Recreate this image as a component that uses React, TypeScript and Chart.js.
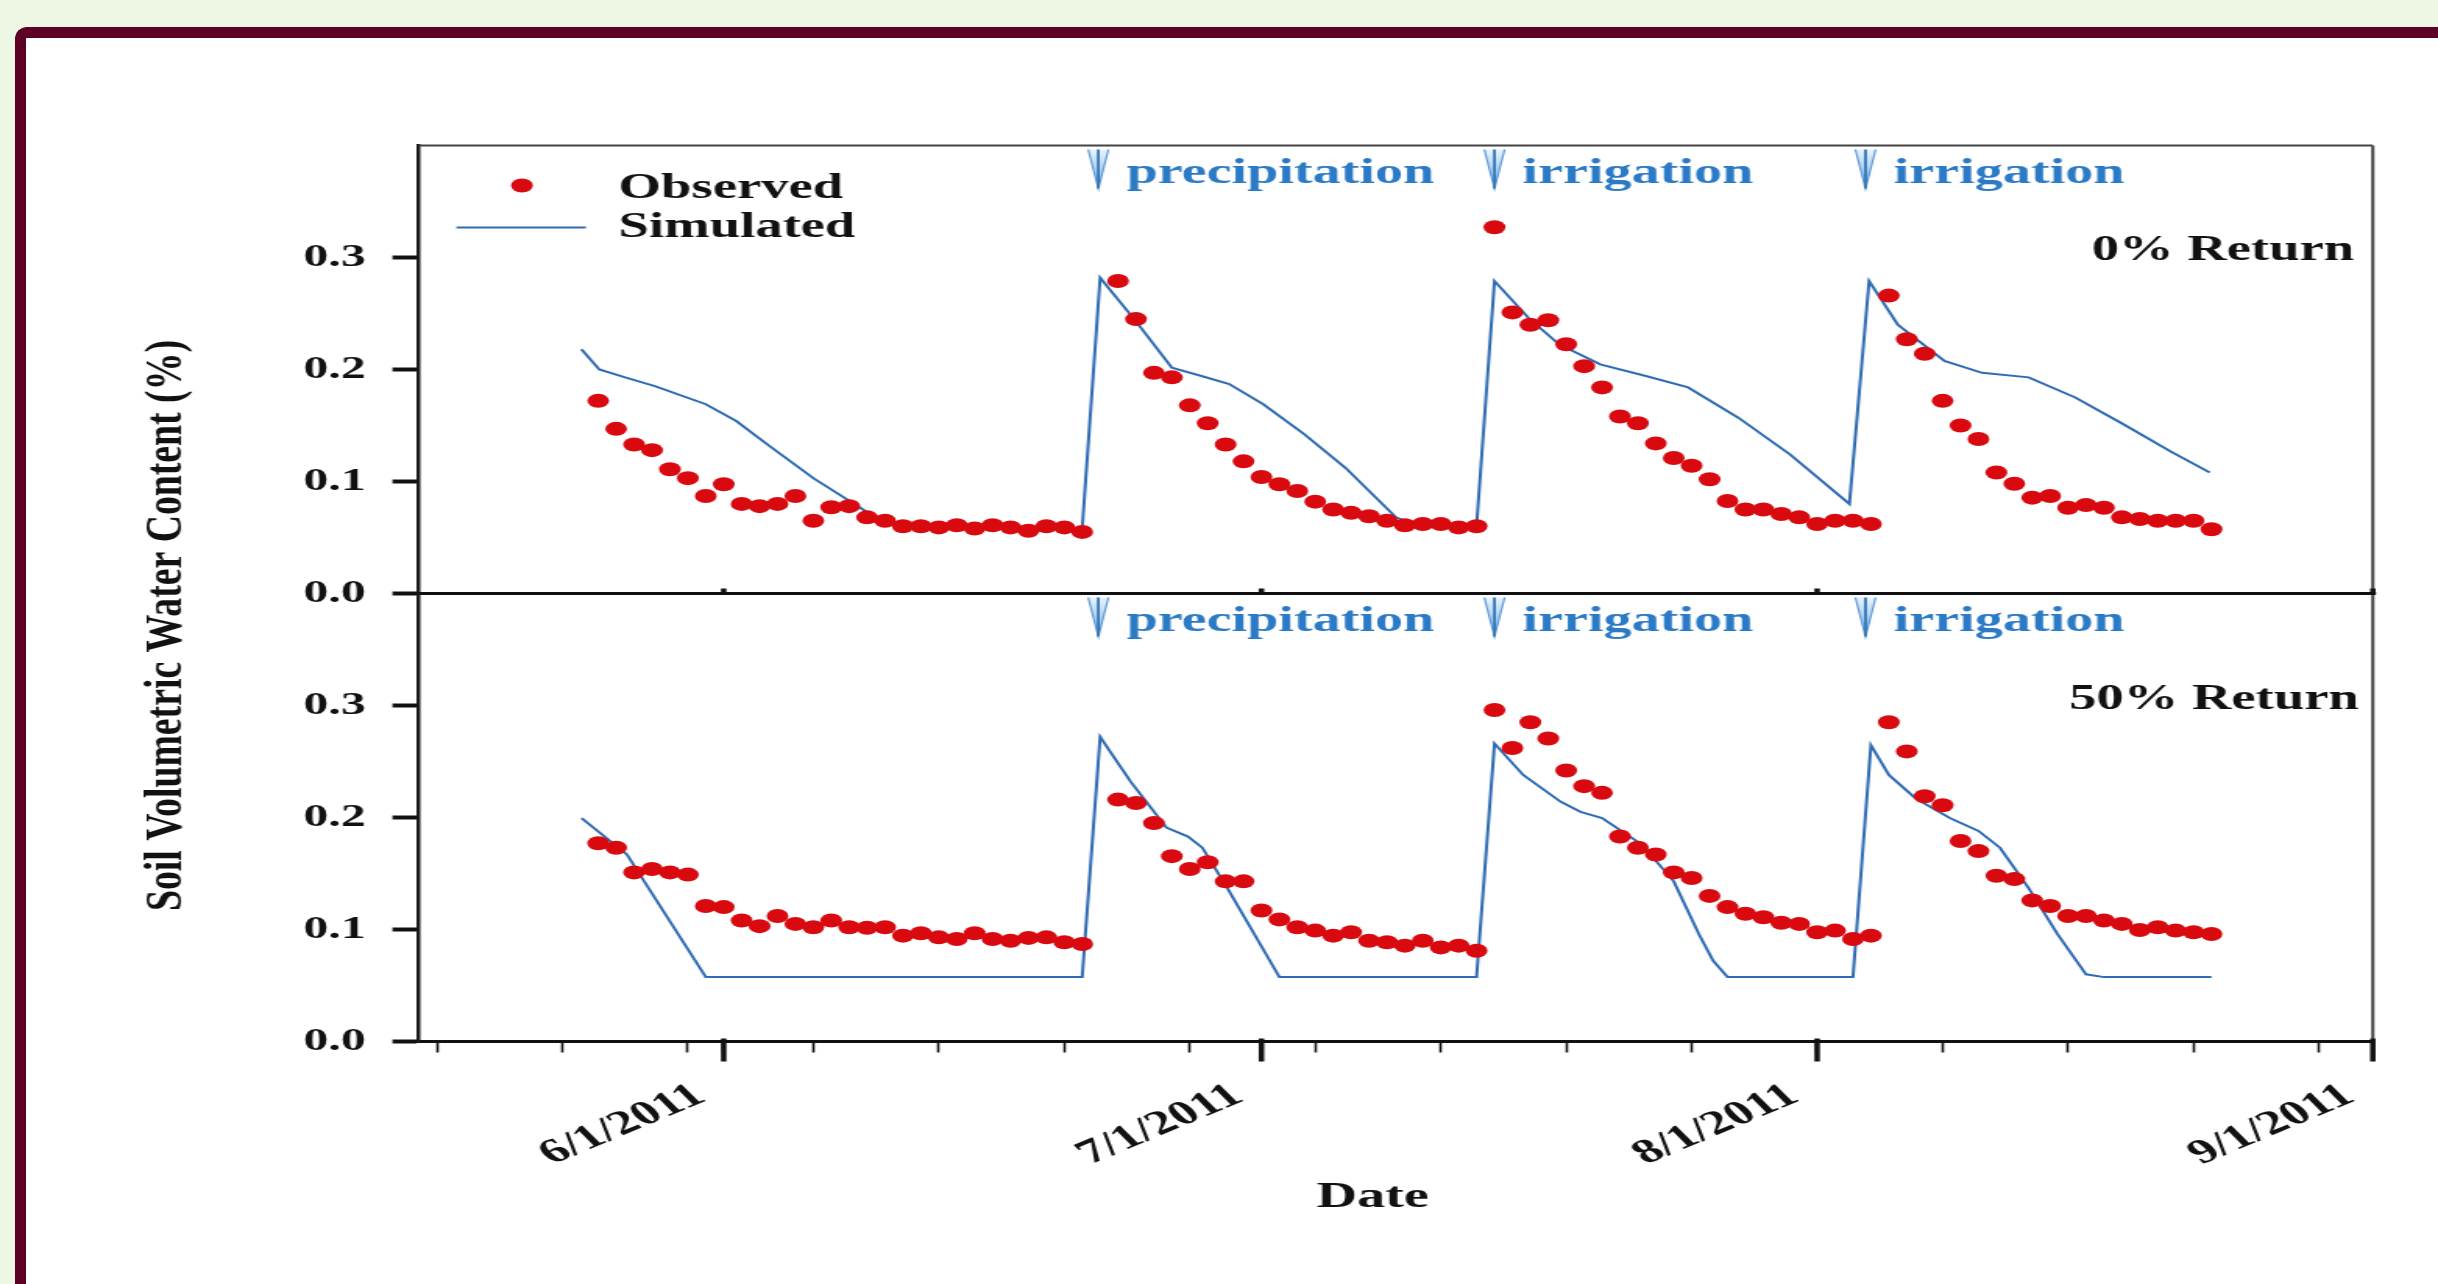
import React, { useEffect, useRef } from 'react';
import { Chart, registerables } from 'chart.js';

Chart.register(...registerables);

// x values are days counted from 5/15/2011
const obsDays = [
  10, 11, 12, 13, 14, 15, 16, 17, 18, 19, 20, 21, 22, 23, 24, 25, 26, 27, 28, 29, 30, 31, 32, 33, 34, 35, 36, 37,
  39, 40, 41, 42, 43, 44, 45, 46, 47, 48, 49, 50, 51, 52, 53, 54, 55, 56, 57, 58, 59, 60, 61, 62, 63, 64, 65, 66, 67, 68, 69,
  70, 71, 72, 73, 74, 75, 76, 77, 78, 79, 80, 81, 82, 83, 84, 85, 86, 87, 88, 89, 90, 91, 92, 93, 94, 95, 96, 97, 98, 99, 100,
];
const obsTop = [
  0.172, 0.147, 0.133, 0.128, 0.111, 0.103, 0.087, 0.0975, 0.08, 0.078, 0.08, 0.087, 0.065, 0.077, 0.078, 0.068, 0.065, 0.06,
  0.06, 0.059, 0.061, 0.058, 0.061, 0.059, 0.056, 0.06, 0.059, 0.055,
  0.279, 0.245, 0.197, 0.193, 0.168, 0.152, 0.133, 0.118, 0.104, 0.0975, 0.0915, 0.082, 0.075, 0.072, 0.069, 0.065, 0.061,
  0.062, 0.062, 0.059, 0.06, 0.327, 0.251, 0.24, 0.244, 0.2225, 0.203, 0.184, 0.158, 0.152, 0.134, 0.121, 0.114, 0.102,
  0.0826, 0.075, 0.075, 0.071, 0.068, 0.062, 0.065, 0.065, 0.062, 0.266, 0.227, 0.214, 0.172, 0.15, 0.138, 0.108, 0.098,
  0.0856, 0.087, 0.0766, 0.079, 0.0766, 0.068, 0.0665, 0.065, 0.065, 0.065, 0.0573,
];
const obsBottom = [
  0.177, 0.173, 0.151, 0.154, 0.151, 0.149, 0.121, 0.12, 0.108, 0.103, 0.112, 0.105, 0.102, 0.108, 0.102, 0.1015, 0.102,
  0.0945, 0.0966, 0.093, 0.0915, 0.0966, 0.0915, 0.09, 0.0925, 0.093, 0.0886, 0.0871,
  0.216, 0.213, 0.195, 0.1655, 0.154, 0.16, 0.143, 0.143, 0.117, 0.109, 0.102, 0.099, 0.0945, 0.0975, 0.09, 0.0886, 0.0856,
  0.09, 0.084, 0.0856, 0.081, 0.296, 0.262, 0.285, 0.2705, 0.242, 0.228, 0.222, 0.183, 0.173, 0.167, 0.151, 0.146, 0.13,
  0.12, 0.114, 0.111, 0.106, 0.105, 0.0975, 0.099, 0.0915, 0.0945, 0.285, 0.259, 0.219, 0.211, 0.179, 0.17, 0.148, 0.145,
  0.126, 0.121, 0.112, 0.112, 0.108, 0.105, 0.0995, 0.102, 0.099, 0.0975, 0.096,
];

const simTopDays = [
  9.06, 10.06, 11.5, 13.2, 16, 17.7, 19.45, 22, 24.9, 26, 37, 38, 40, 42, 43.7, 45.2, 47.1, 49.4, 51.7, 54.5, 55.5, 59, 60,
  61.9, 63.6, 65.9, 68.5, 70.8, 73.6, 76.5, 79.8, 80.9, 82.5, 85.1, 87.2, 89.8, 92.4, 95.1, 97.7, 99.9,
];
const simTopValues = [
  0.218, 0.2, 0.193, 0.185, 0.169, 0.154, 0.133, 0.103, 0.0737, 0.062, 0.058, 0.282, 0.243, 0.2016, 0.194, 0.187, 0.169,
  0.142, 0.112, 0.068, 0.062, 0.06, 0.279, 0.246, 0.2225, 0.2046, 0.194, 0.184, 0.157, 0.124, 0.08, 0.279, 0.24, 0.2076,
  0.197, 0.193, 0.175, 0.151, 0.127, 0.108,
];
const simBottomDays = [
  9.07, 11.6, 16, 37, 38, 39.7, 41.7, 42.9, 43.7, 45.1, 48, 59, 60, 61.6, 63.7, 64.8, 66, 68.2, 70, 71.4, 72.2, 73, 80, 81,
  82, 83.5, 85.4, 87, 88.2, 89.8, 91.4, 93, 94, 100,
];
const simBottomValues = [
  0.1995, 0.167, 0.0575, 0.0575, 0.272, 0.232, 0.191, 0.183, 0.173, 0.137, 0.0575, 0.0575, 0.266, 0.238, 0.214, 0.205,
  0.1995, 0.176, 0.143, 0.096, 0.072, 0.0575, 0.0575, 0.2646, 0.238, 0.217, 0.1995, 0.188, 0.173, 0.137, 0.096, 0.06, 0.0575,
  0.0575,
];

const monthTickDays = [17, 47, 78, 109];
const monthTickLabels = ['6/1/2011', '7/1/2011', '8/1/2011', '9/1/2011'];
const weekTickDays = [1, 8, 15, 22, 29, 36, 43, 50, 57, 64, 71, 85, 92, 99, 106];
const yTickValues = [0, 0.1, 0.2, 0.3];

const eventDays = [37.9, 60, 80.7];
const eventLabels = ['precipitation', 'irrigation', 'irrigation'];
const panelLabels = ['0% Return', '50% Return'];
const seriesLabels = ['Observed', 'Simulated'];
const yTitle = 'Soil Volumetric Water Content (%)';
const xTitle = 'Date';

const CANVAS_W = 1563;
const CANVAS_H = 1284;
const SHOWN_W = 2438;
const FONT = '"Liberation Serif", "Times New Roman", serif';
const RED = '#d90a0f';
const BLUE = '#2e6bb3';
const TEXT_BLUE = '#2b7ac6';
const INK = '#111111';

function drawArrow(ctx: CanvasRenderingContext2D, x: number, top: number, bottom: number) {
  const hw = 6.5;
  const g = ctx.createLinearGradient(0, top, 0, bottom);
  g.addColorStop(0, '#eaf3fc');
  g.addColorStop(1, '#7fb2e4');
  ctx.beginPath();
  ctx.moveTo(x - hw, top);
  ctx.lineTo(x + hw, top);
  ctx.lineTo(x, bottom);
  ctx.closePath();
  ctx.fillStyle = g;
  ctx.fill();
  ctx.lineWidth = 1.2;
  ctx.strokeStyle = '#5b98d6';
  ctx.beginPath();
  ctx.moveTo(x - hw, top);
  ctx.lineTo(x, bottom);
  ctx.lineTo(x + hw, top);
  ctx.stroke();
  ctx.beginPath();
  ctx.moveTo(x, top);
  ctx.lineTo(x, bottom);
  ctx.lineWidth = 1.8;
  ctx.strokeStyle = '#2e75b6';
  ctx.stroke();
}

const decorPlugin = {
  id: 'decor',
  afterDraw(chart: any) {
    const ctx: CanvasRenderingContext2D = chart.ctx;
    const ca = chart.chartArea;
    const xs = chart.scales.x;
    const yT = chart.scales.yT;
    const yB = chart.scales.yB;
    ctx.save();

    // frame: top, right, separator
    ctx.strokeStyle = '#444';
    ctx.lineWidth = 2;
    ctx.beginPath();
    ctx.moveTo(ca.left, yT.top);
    ctx.lineTo(ca.right, yT.top);
    ctx.moveTo(ca.right, yT.top);
    ctx.lineTo(ca.right, ca.bottom);
    ctx.stroke();
    ctx.strokeStyle = INK;
    ctx.lineWidth = 3;
    ctx.beginPath();
    ctx.moveTo(ca.left, yT.bottom);
    ctx.lineTo(ca.right + 2, yT.bottom);
    ctx.stroke();

    // major ticks (longer, thicker) and small marks on separator
    ctx.lineWidth = 3.5;
    for (const d of monthTickDays) {
      const px = xs.getPixelForValue(d);
      ctx.beginPath();
      ctx.moveTo(px, ca.bottom - 3);
      ctx.lineTo(px, ca.bottom + 20);
      ctx.moveTo(px, yT.bottom);
      ctx.lineTo(px, yT.bottom - 5);
      ctx.stroke();
    }

    // legend
    const lx = ca.left;
    const ly = ca.top;
    ctx.fillStyle = RED;
    ctx.beginPath();
    ctx.arc(lx + 66, ly + 40, 7, 0, Math.PI * 2);
    ctx.fill();
    ctx.strokeStyle = BLUE;
    ctx.lineWidth = 2;
    ctx.beginPath();
    ctx.moveTo(lx + 24, ly + 82);
    ctx.lineTo(lx + 107, ly + 82);
    ctx.stroke();
    ctx.fillStyle = INK;
    ctx.font = `bold 35px ${FONT}`;
    ctx.textAlign = 'left';
    ctx.textBaseline = 'alphabetic';
    ctx.fillText(chart.data.datasets[0].label, lx + 128, ly + 52);
    ctx.fillText(chart.data.datasets[2].label, lx + 128, ly + 91);

    // panel labels
    ctx.textAlign = 'right';
    ctx.fillText(panelLabels[0], ca.right - 12, yT.top + 114);
    ctx.fillText(panelLabels[1], ca.right - 9, yB.top + 115);

    // event arrows and labels
    ctx.font = `bold 36px ${FONT}`;
    ctx.textAlign = 'left';
    for (const panel of [yT, yB]) {
      eventDays.forEach((d, i) => {
        const px = xs.getPixelForValue(d);
        drawArrow(ctx, px, panel.top + 4, panel.top + 43);
        ctx.fillStyle = TEXT_BLUE;
        ctx.fillText(eventLabels[i], px + 18, panel.top + 37);
      });
    }

    // y title
    ctx.fillStyle = INK;
    ctx.save();
    ctx.translate(107.5, 625.5);
    ctx.rotate(-Math.PI / 2);
    ctx.font = `bold 34px ${FONT}`;
    const w = ctx.measureText(yTitle).width;
    ctx.scale(571 / w, 1);
    ctx.textAlign = 'center';
    ctx.textBaseline = 'middle';
    ctx.fillText(yTitle, 0, 0);
    ctx.restore();

    // x title
    ctx.font = `bold 36px ${FONT}`;
    ctx.textAlign = 'center';
    ctx.textBaseline = 'middle';
    ctx.fillText(xTitle, 880, 1198);

    ctx.restore();
  },
};

function yScale(name: string) {
  return {
    type: 'linear',
    position: 'left',
    stack: 'panels',
    stackWeight: 1,
    weight: name === 'yT' ? 2 : 1,
    min: 0,
    max: 0.4,
    offset: false,
    afterBuildTicks: (s: any) => {
      s.ticks = yTickValues.map((v) => ({ value: v }));
    },
    afterFit: (s: any) => {
      s.width = 268.6;
      s.paddingTop = 0;
      s.paddingBottom = 0;
    },
    ticks: {
      color: INK,
      padding: 17,
      font: { family: FONT, size: 32, weight: 'bold' },
      callback: (v: any) => Number(v).toFixed(1),
    },
    grid: {
      drawOnChartArea: false,
      drawTicks: true,
      tickLength: 17,
      tickWidth: 4,
      tickColor: INK,
    },
    border: { display: true, color: '#1a1a1a', width: 2.5 },
  };
}

export default function App() {
  const ref = useRef<HTMLCanvasElement | null>(null);

  useEffect(() => {
    if (!ref.current) return;
    const allX = [...weekTickDays, ...monthTickDays].sort((a, b) => a - b);
    const chart = new Chart(ref.current, {
      type: 'scatter',
      data: {
        datasets: [
          {
            label: seriesLabels[0],
            data: obsDays.map((d, i) => ({ x: d, y: obsTop[i] })),
            yAxisID: 'yT',
            showLine: false,
            pointRadius: 7,
            pointBorderWidth: 0,
            pointBackgroundColor: RED,
            backgroundColor: RED,
          },
          {
            label: seriesLabels[0],
            data: obsDays.map((d, i) => ({ x: d, y: obsBottom[i] })),
            yAxisID: 'yB',
            showLine: false,
            pointRadius: 7,
            pointBorderWidth: 0,
            pointBackgroundColor: RED,
            backgroundColor: RED,
          },
          {
            label: seriesLabels[1],
            data: simTopDays.map((d, i) => ({ x: d, y: simTopValues[i] })),
            yAxisID: 'yT',
            showLine: true,
            pointRadius: 0,
            borderColor: BLUE,
            borderWidth: 2,
            tension: 0,
          },
          {
            label: seriesLabels[1],
            data: simBottomDays.map((d, i) => ({ x: d, y: simBottomValues[i] })),
            yAxisID: 'yB',
            showLine: true,
            pointRadius: 0,
            borderColor: BLUE,
            borderWidth: 2,
            tension: 0,
          },
        ],
      },
      options: {
        animation: false,
        responsive: false,
        devicePixelRatio: 1,
        events: [],
        layout: { padding: { left: 0, right: CANVAS_W - 1521.2, top: 145.5, bottom: 0 } },
        plugins: { legend: { display: false }, tooltip: { enabled: false } },
        scales: {
          x: {
            type: 'linear',
            position: 'bottom',
            min: 0,
            max: 109,
            afterBuildTicks: (s: any) => {
              s.ticks = allX.map((v) => ({ value: v }));
            },
            afterFit: (s: any) => {
              s.height = CANVAS_H - 1041.5;
              s.paddingLeft = 0;
              s.paddingRight = 0;
            },
            ticks: {
              autoSkip: false,
              minRotation: 33,
              maxRotation: 33,
              padding: 23,
              labelOffset: -15,
              color: INK,
              font: { family: FONT, size: 34, weight: 'bold' },
              callback: (v: any) => {
                const k = monthTickDays.indexOf(Number(v));
                return k >= 0 ? monthTickLabels[k] : '';
              },
            },
            grid: {
              drawOnChartArea: false,
              drawTicks: true,
              tickLength: 11,
              tickWidth: 1.6,
              tickColor: INK,
            },
            border: { display: true, color: INK, width: 3 },
          },
          yB: yScale('yB'),
          yT: yScale('yT'),
        } as any,
      },
      plugins: [decorPlugin],
    } as any);
    return () => chart.destroy();
  }, []);

  return (
    <div style={{ position: 'fixed', left: 0, top: 0, width: '100vw', height: '100vh', background: '#eef6e4', overflow: 'hidden' }}>
      <div
        style={{
          position: 'absolute',
          left: 15,
          top: 27,
          right: -40,
          bottom: -40,
          background: '#ffffff',
          borderTop: '11px solid #5d0026',
          borderLeft: '11px solid #5d0026',
          borderTopLeftRadius: 12,
        }}
      />
      <canvas
        ref={ref}
        width={CANVAS_W}
        height={CANVAS_H}
        style={{ position: 'absolute', left: 0, top: 0, width: `${SHOWN_W}px`, height: `${CANVAS_H}px` }}
      />
    </div>
  );
}
